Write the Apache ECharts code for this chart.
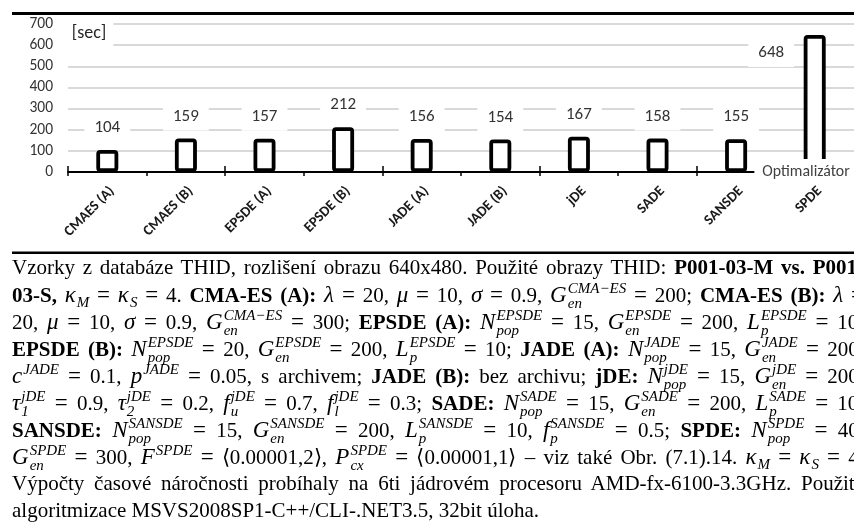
<!DOCTYPE html>
<html>
<head>
<meta charset="utf-8">
<script src="https://cdn.jsdelivr.net/npm/echarts@6/dist/echarts.min.js"></script>
<style>
  html, body { margin: 0; padding: 0; background: #fff; }
  #wrap { position: relative; width: 854px; height: 525px; overflow: hidden; }
  #chart { position: absolute; left: 0; top: 0; width: 854px; height: 525px; }
  #cap { position: absolute; left: 12px; top: 254px; width: 900px; height: 271px;
         font-family: "Liberation Serif", "Times New Roman", serif; font-size: 21px; color: #000; }
  .ln { position: absolute; left: 0; width: 852px; height: 27px; line-height: 27px;
        white-space: nowrap; text-align: justify; text-align-last: justify; }
  .ln.last { text-align-last: left; }
  .mv { white-space: nowrap; font-size: 23px; }
  .mv i { font-style: italic; }
  .eqs { font-size: 23px; }
  .ss { display: inline-flex; flex-direction: column; font-size: 15px; line-height: 15px;
        font-style: italic; vertical-align: 9px; margin-left: 1px; }
  .sp { font-size: 15px; font-style: italic; vertical-align: 9px; line-height: 0; margin-left: 1px; }
  .sb { font-size: 15px; font-style: italic; vertical-align: -5px; line-height: 0; margin-left: 1px; }
</style>
</head>
<body>
<div id="wrap">
  <div id="chart"></div>
  <div id="cap"></div>
</div>
<script>
// Run time of each optimiser, seconds
const categories = ['CMAES (A)', 'CMAES (B)', 'EPSDE (A)', 'EPSDE (B)', 'JADE (A)',
                    'JADE (B)', 'jDE', 'SADE', 'SANSDE', 'SPDE'];
const times = [104, 159, 157, 212, 156, 154, 167, 158, 155, 648];
const yMin = 0, yMax = 700, yStep = 100;
const unitLabel = '[sec]';
const axisTitle = 'Optimalizátor';

const SANS = 'Carlito, Calibri, Lato, sans-serif';

// Math variable with optional subscript / superscript (stacked when both)
function V(base, sub, sup) {
  let h = '<i>' + base + '</i>';
  if (sub && sup) h += '<span class="ss"><span>' + sup + '</span><span>' + sub + '</span></span>';
  else if (sup) h += '<span class="sp">' + sup + '</span>';
  else if (sub) h += '<span class="sb">' + sub + '</span>';
  return '<span class="mv">' + h + '</span>';
}

const captionLines = [
  'Vzorky z databáze THID, rozlišení obrazu 640x480. Použité obrazy THID: <b>P001-03-M vs. P001-</b>',
  '<b>03-S,</b> ' + V('κ', 'M') + ' = ' + V('κ', 'S') + ' = 4. <b>CMA-ES (A):</b> ' + V('λ') + ' = 20, ' +
    V('μ') + ' = 10, ' + V('σ') + ' = 0.9, ' + V('G', 'en', 'CMA−ES') + ' = 200; <b>CMA-ES (B):</b> ' + V('λ') + ' =',
  '20, ' + V('μ') + ' = 10, ' + V('σ') + ' = 0.9, ' + V('G', 'en', 'CMA−ES') + ' = 300; <b>EPSDE (A):</b> ' +
    V('N', 'pop', 'EPSDE') + ' = 15, ' + V('G', 'en', 'EPSDE') + ' = 200, ' + V('L', 'p', 'EPSDE') + ' = 10;',
  '<b>EPSDE (B):</b> ' + V('N', 'pop', 'EPSDE') + ' = 20, ' + V('G', 'en', 'EPSDE') + ' = 200, ' +
    V('L', 'p', 'EPSDE') + ' = 10; <b>JADE (A):</b> ' + V('N', 'pop', 'JADE') + ' = 15, ' + V('G', 'en', 'JADE') + ' = 200,',
  V('c', '', 'JADE') + ' = 0.1, ' + V('p', '', 'JADE') + ' = 0.05, s archivem; <b>JADE (B):</b> bez archivu; <b>jDE:</b> ' +
    V('N', 'pop', 'jDE') + ' = 15, ' + V('G', 'en', 'jDE') + ' = 200,',
  V('τ', '1', 'jDE') + ' = 0.9, ' + V('τ', '2', 'jDE') + ' = 0.2, ' + V('f', 'u', 'jDE') + ' = 0.7, ' +
    V('f', 'l', 'jDE') + ' = 0.3; <b>SADE:</b> ' + V('N', 'pop', 'SADE') + ' = 15, ' + V('G', 'en', 'SADE') + ' = 200, ' +
    V('L', 'p', 'SADE') + ' = 10;',
  '<b>SANSDE:</b> ' + V('N', 'pop', 'SANSDE') + ' = 15, ' + V('G', 'en', 'SANSDE') + ' = 200, ' +
    V('L', 'p', 'SANSDE') + ' = 10, ' + V('f', 'p', 'SANSDE') + ' = 0.5; <b>SPDE:</b> ' + V('N', 'pop', 'SPDE') + ' = 40,',
  V('G', 'en', 'SPDE') + ' = 300, ' + V('F', '', 'SPDE') + ' = ⟨0.00001,2⟩, ' + V('P', 'cx', 'SPDE') +
    ' = ⟨0.00001,1⟩ – viz také Obr. (7.1).14. ' + V('κ', 'M') + ' = ' + V('κ', 'S') + ' = 4.',
  'Výpočty časové náročnosti probíhaly na 6ti jádrovém procesoru AMD-fx-6100-3.3GHz. Použita',
  'algoritmizace MSVS2008SP1-C++/CLI-.NET3.5, 32bit úloha.'
];

const cap = document.getElementById('cap');
captionLines.forEach(function (html, i) {
  const d = document.createElement('div');
  d.className = 'ln' + (i === captionLines.length - 1 ? ' last' : '');
  d.style.top = (27 * i) + 'px';
  // equals signs of the formulas are set in the math size
  d.innerHTML = html.replace(/ = /g, ' <span class="eqs">=</span> ').replace(/ =$/, ' <span class="eqs">=</span>');
  cap.appendChild(d);
});

const chart = echarts.init(document.getElementById('chart'), null, { renderer: 'canvas' });

const barData = times.map(function (v, i) {
  if (i === times.length - 1) {
    // tall bar: value sits beside it, near the top
    return { value: v, label: { position: [-32.5, 18], align: 'center', verticalAlign: 'middle' } };
  }
  return v;
});

chart.setOption({
  animation: false,
  backgroundColor: '#fff',
  grid: { left: 68, top: 24, width: 790, height: 148, containLabel: false },
  xAxis: [{
    type: 'category',
    data: categories,
    position: 'bottom',
    axisLine: { show: true, lineStyle: { color: '#000', width: 2 } },
    axisTick: { show: true, length: 4, lineStyle: { color: '#000', width: 1.5 } },
    axisLabel: { interval: 0, rotate: 45, margin: 12, fontSize: 14.5, fontWeight: 'bold',
                 color: '#1a1a1a', fontFamily: SANS, verticalAlign: 'top', lineHeight: 14 },
    splitLine: { show: false }
  }, {
    type: 'category',
    data: categories,
    position: 'bottom',
    axisLine: { show: false },
    axisTick: { show: true, inside: true, length: 6, lineStyle: { color: '#000', width: 1.5 } },
    axisLabel: { show: false },
    splitLine: { show: false }
  }],
  yAxis: {
    type: 'value',
    min: yMin, max: yMax, interval: yStep,
    axisLine: { show: false },
    axisTick: { show: false },
    axisLabel: { margin: 15, fontSize: 15.5, color: '#333', fontFamily: SANS },
    splitLine: { lineStyle: { color: '#d9d9d9', width: 2 } }
  },
  series: [{
    type: 'bar',
    xAxisIndex: 0,
    data: barData,
    barWidth: 22,
    itemStyle: { color: '#fff', borderColor: '#000', borderWidth: 3.8, borderRadius: 2 },
    label: {
      show: true, position: 'top', distance: 8,
      fontSize: 17, lineHeight: 18, color: '#333', fontFamily: SANS,
      backgroundColor: '#fff', padding: [5, 10]
    }
  }],
  graphic: [
    { type: 'rect', z: 100, shape: { x: 12, y: 12, width: 842, height: 3 }, style: { fill: '#000' } },
    { type: 'rect', z: 100, shape: { x: 12, y: 251.5, width: 842, height: 2.5 }, style: { fill: '#000' } },
    { type: 'text', z: 100, x: 89, y: 33,
      style: { text: unitLabel, font: '18px ' + SANS, fill: '#262626', align: 'center', verticalAlign: 'middle',
               backgroundColor: '#fff', padding: [8, 7] } },
    { type: 'text', z: 100, x: 806, y: 172,
      style: { text: axisTitle, font: '15.8px ' + SANS, fill: '#404040', align: 'center', verticalAlign: 'middle',
               backgroundColor: '#fff', padding: [8, 8, 2, 8] } }
  ]
});
</script>
</body>
</html>
